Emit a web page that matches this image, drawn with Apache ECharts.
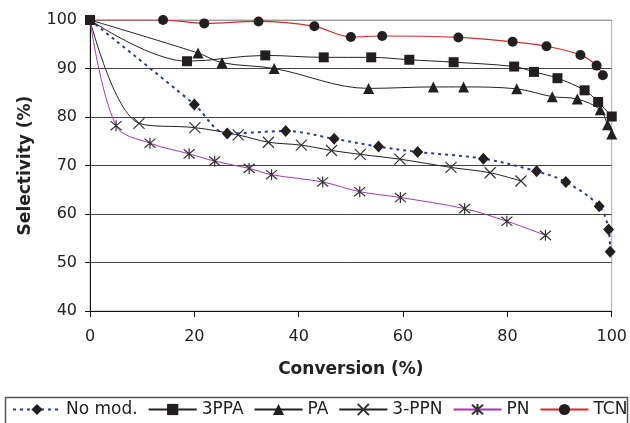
<!DOCTYPE html>
<html>
<head>
<meta charset="utf-8">
<script src="https://cdn.jsdelivr.net/npm/echarts@6/dist/echarts.min.js"></script>
<style>
  html, body { margin: 0; padding: 0; background: #fff; }
  #main { width: 630px; height: 423px; }
</style>
</head>
<body>
<div id="main"></div>
<script>
// conversion (%) / selectivity (%)
var noModX = [0, 20, 26.3, 37.5, 46.8, 55.3, 62.8, 75.4, 85.6, 91.2, 97.6, 99.4, 99.7];
var noModY = [100, 82.6, 76.6, 77.1, 75.5, 73.9, 72.8, 71.4, 68.8, 66.6, 61.6, 56.8, 52.2];

var ppa3X = [0, 18.6, 33.6, 44.8, 53.9, 61.2, 69.7, 81.3, 85.1, 89.6, 94.8, 97.4, 100];
var ppa3Y = [100, 91.5, 92.7, 92.3, 92.3, 91.8, 91.3, 90.4, 89.3, 88.0, 85.5, 83.1, 80.1];

var paX = [0, 20.7, 25.3, 35.3, 53.4, 65.8, 71.6, 81.8, 88.6, 93.4, 97.8, 99.2, 100];
var paY = [100, 93.2, 91.2, 90.0, 85.9, 86.2, 86.2, 85.8, 84.2, 83.7, 81.5, 78.4, 76.5];

var ppnX = [0, 9.4, 20.1, 28.4, 34.2, 40.5, 46.3, 51.8, 59.4, 69.2, 76.7, 82.6];
var ppnY = [100, 78.7, 77.8, 76.3, 74.8, 74.2, 73.1, 72.3, 71.3, 69.6, 68.5, 66.8];

var pnX = [0, 5, 11.5, 19, 23.9, 30.5, 34.8, 44.6, 51.7, 59.5, 71.8, 79.9, 87.3];
var pnY = [100, 78.2, 74.6, 72.4, 70.9, 69.4, 68.1, 66.6, 64.6, 63.4, 61.1, 58.5, 55.6];

var tcnX = [0, 14, 21.9, 32.3, 43, 50, 56, 70.6, 81, 87.5, 94, 97.1, 98.3];
var tcnY = [100, 100, 99.3, 99.7, 98.7, 96.5, 96.7, 96.4, 95.5, 94.6, 92.8, 90.6, 88.6];

var seriesNames = ['No mod.', '3PPA', 'PA', '3-PPN', 'PN', 'TCN'];

var FONT = 'DejaVu Sans';
var MARK = '#231f20';

// pair x/y arrays; the first point (0,100) has no marker except on 3PPA
function pairs(xs, ys, keepFirst) {
  var out = [];
  for (var i = 0; i < xs.length; i++) {
    if (i === 0 && !keepFirst) {
      out.push({ value: [xs[i], ys[i]], symbol: 'none' });
    } else {
      out.push([xs[i], ys[i]]);
    }
  }
  return out;
}

function lineSeries(name, data, lineColor, lineType, lineWidth, symbol, size, hollow) {
  return {
    name: name,
    type: 'line',
    data: data,
    smooth: 0.35,
    symbol: symbol,
    symbolSize: size,
    showAllSymbol: true,
    lineStyle: { color: lineColor, width: lineWidth, type: lineType },
    itemStyle: hollow
      ? { color: 'rgba(0,0,0,0)', borderColor: '#333', borderWidth: 1.2 }
      : { color: MARK, borderWidth: 0 },
    emphasis: { disabled: true }
  };
}

var option = {
  backgroundColor: '#fff',
  animation: false,
  textStyle: { fontFamily: FONT },
  grid: {
    left: 90, right: 16, top: 20, bottom: 112,
    show: true, borderColor: '#aaa', borderWidth: 1
  },
  xAxis: {
    type: 'value',
    min: 0, max: 100, interval: 20,
    name: 'Conversion (%)',
    nameLocation: 'middle',
    nameGap: 50,
    nameTextStyle: { fontFamily: FONT, fontSize: 17, fontWeight: 'bold', color: '#222' },
    axisLine: { lineStyle: { color: '#111', width: 1 } },
    axisTick: { show: true, length: 6, lineStyle: { color: '#111' } },
    axisLabel: { fontFamily: FONT, fontSize: 16, color: '#222', margin: 18 },
    splitLine: { show: false }
  },
  yAxis: {
    type: 'value',
    min: 40, max: 100, interval: 10,
    name: 'Selectivity (%)',
    nameLocation: 'middle',
    nameGap: 56,
    nameTextStyle: { fontFamily: FONT, fontSize: 17, fontWeight: 'bold', color: '#222' },
    axisLine: { show: true, lineStyle: { color: '#111', width: 1 } },
    axisTick: { show: true, length: 5, lineStyle: { color: '#111' } },
    axisLabel: { fontFamily: FONT, fontSize: 16, color: '#222', margin: 13 },
    splitLine: {
      show: true,
      lineStyle: { color: ['#444', '#444', '#444', '#444', '#444', '#444', '#999'], width: 1 }
    }
  },
  legend: {
    data: seriesNames,
    left: 12, top: 401,
    padding: 0,
    itemWidth: 48, itemHeight: 14, itemGap: 10,
    textStyle: { fontFamily: FONT, fontSize: 17, color: '#222' }
  },
  graphic: [{
    type: 'rect',
    shape: { x: 5.5, y: 397.5, width: 622, height: 40 },
    style: { fill: 'none', stroke: '#555', lineWidth: 1.5 },
    silent: true
  }],
  series: [
    lineSeries('No mod.', pairs(noModX, noModY, false), '#2b3a97', [3, 4], 2, 'diamond', [11, 12], false),
    lineSeries('3PPA', pairs(ppa3X, ppa3Y, true), '#222', 'solid', 1, 'rect', 10, false),
    lineSeries('PA', pairs(paX, paY, false), '#222', 'solid', 1, 'triangle', 11, false),
    lineSeries('3-PPN', pairs(ppnX, ppnY, false), '#222', 'solid', 1, 'path://M0 0L10 10M10 0L0 10', 11, true),
    lineSeries('PN', pairs(pnX, pnY, false), '#a23aa8', 'solid', 1, 'path://M0 0L10 10M10 0L0 10M5 -1L5 11', 11, true),
    lineSeries('TCN', pairs(tcnX, tcnY, false), '#d42a2a', 'solid', 1.2, 'circle', 10, false)
  ]
};

var chart = echarts.init(document.getElementById('main'), null, { renderer: 'canvas' });
chart.setOption(option);
</script>
</body>
</html>
